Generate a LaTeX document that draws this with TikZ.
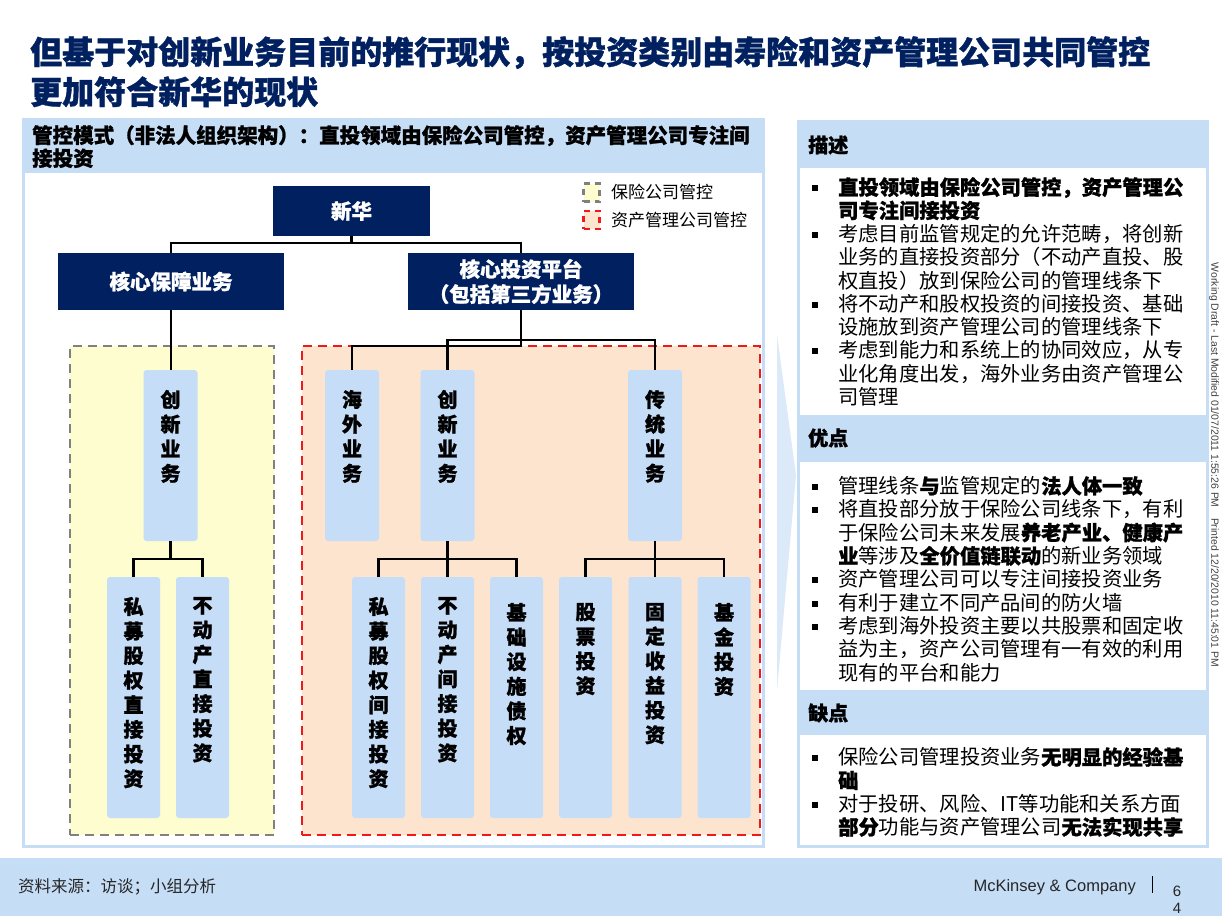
\documentclass[tikz,border=0pt]{standalone}
\usepackage{fontspec}
\setmainfont{Noto Sans CJK SC}[BoldFeatures={FakeBold=1.2}]
\newfontfamily\lat{Liberation Sans}
\definecolor{navy}{HTML}{002060}
\definecolor{lb}{HTML}{C6DDF6}
\definecolor{lbox}{HTML}{C5DDF6}
\definecolor{ylw}{HTML}{FDFDD0}
\definecolor{peach}{HTML}{FCE4CE}
\definecolor{chev}{HTML}{DCE9F8}
\definecolor{zred}{HTML}{F01818}
\definecolor{zgray}{HTML}{808080}
\newcommand{\bl}{\llap{\raisebox{3.5pt}{\rule{6pt}{6pt}}\hspace{20pt}}}
\begin{document}
\begin{tikzpicture}[x=1pt,y=-1pt,
  navybox/.style={fill=navy,text=white,font=\bfseries\fontsize{20.5}{25}\selectfont,inner sep=0,align=center},
  lvtwo/.style={fill=lbox,rounded corners=3pt,minimum width=54pt,minimum height=171pt,inner sep=0},
  lvthree/.style={fill=lbox,rounded corners=3pt,minimum width=53pt,minimum height=241pt,inner sep=0},
  vt/.style={font=\bfseries\fontsize{20}{24.6}\selectfont,align=center,inner sep=0,anchor=north},
  conn/.style={draw=black,line width=2.3pt},
  zoney/.style={fill=ylw,draw=zgray,line width=2.6pt,dash pattern=on 9pt off 6pt,inner sep=0},
  zoner/.style={fill=peach,draw=zred,line width=2.6pt,dash pattern=on 9pt off 6pt,inner sep=0},
  sect/.style={anchor=north west,inner sep=0,align=left,font=\fontsize{20.3}{23.3}\selectfont},
  hdr/.style={anchor=west,inner sep=0,font=\bfseries\fontsize{20}{24}\selectfont},
]
\useasboundingbox (0,0) rectangle (1222,916);
\fill[white] (0,0) rectangle (1222,916);
% title
\node[anchor=north west,inner sep=0,align=left,text=navy,font=\bfseries\fontsize{32}{40}\selectfont] (title) at (30,36)
 {但基于对创新业务目前的推行现状，按投资类别由寿险和资产管理公司共同管控\\更加符合新华的现状};
% left panel
\fill[lb] (22,118) rectangle (765,848);
\fill[white] (25,173) rectangle (762,845);
\node[anchor=north west,inner sep=0,align=left,font=\bfseries\fontsize{20.5}{23}\selectfont] (lhdr) at (32,125)
 {管控模式（非法人组织架构）：直投领域由保险公司管控，资产管理公司专注间\\接投资};
% zones
\node[zoney,minimum width=204pt,minimum height=489pt] (zy) at (172,590.5) {};
\node[zoner,minimum width=458pt,minimum height=489pt] (zr) at (531,590.5) {};
% legend
\node[fill=ylw,draw=zgray,line width=2.5pt,dash pattern=on 6pt off 5pt,minimum width=16pt,minimum height=18pt,inner sep=0] (ly) at (591.5,192.5) {};
\node[fill=peach,draw=zred,line width=2.5pt,dash pattern=on 6pt off 5pt,minimum width=16pt,minimum height=18pt,inner sep=0] (lr) at (591.5,220) {};
\node[anchor=west,inner sep=0,font=\fontsize{17}{20}\selectfont] (lyt) at (611,192) {保险公司管控};
\node[anchor=west,inner sep=0,font=\fontsize{17}{20}\selectfont] (lrt) at (611,220) {资产管理公司管控};
% top nodes
\node[navybox,minimum width=157pt,minimum height=50pt] (xh) at (351.5,211) {新华};
\node[navybox,minimum width=226pt,minimum height=57pt] (bz) at (171,281.5) {核心保障业务};
\node[navybox,minimum width=226pt,minimum height=57pt] (tz) at (521,281.5) {核心投资平台\\（包括第三方业务）};
% level 2
\node[lvtwo] (lcx) at (170.5,455.5) {};
\node[lvtwo] (hw) at (352,455.5) {};
\node[lvtwo] (rcx) at (447.5,455.5) {};
\node[lvtwo] (ct) at (655,455.5) {};
% level 3
\node[lvthree] (a1) at (133.5,697.5) {};
\node[lvthree] (a2) at (202.5,697.5) {};
\node[lvthree] (b1) at (378.5,697.5) {};
\node[lvthree] (b2) at (447.5,697.5) {};
\node[lvthree] (b3) at (516.5,697.5) {};
\node[lvthree] (c1) at (585.5,697.5) {};
\node[lvthree] (c2) at (655,697.5) {};
\node[lvthree] (c3) at (724,697.5) {};
% connectors
\draw[conn] (xh.south) -- ++(0,7);
\draw[conn] (bz.north) -- ++(0,-10) -| (tz.north);
\draw[conn] (bz.south) -- (bz.south |- lcx.north);
\draw[conn] (tz.south) -- ++(0,36) -| (hw.north);
\draw[conn] (tz.south) -- ++(0,30) -| (rcx.north);
\draw[conn] (tz.south) -- ++(0,30) -| (ct.north);
\draw[conn] (lcx.south) -- ++(0,18);
\draw[conn] (a1.north) -- ++(0,-18) -| (a2.north);
\draw[conn] (rcx.south) -- (b2.north);
\draw[conn] (b1.north) -- ++(0,-18) -| (b3.north);
\draw[conn] (ct.south) -- (c2.north);
\draw[conn] (c1.north) -- ++(0,-18) -| (c3.north);
% vertical texts
\node[vt] (tlcx) at ([yshift=-20pt]lcx.north) {创\\新\\业\\务};
\node[vt] (thw) at ([yshift=-20pt]hw.north) {海\\外\\业\\务};
\node[vt] (trcx) at ([yshift=-20pt]rcx.north) {创\\新\\业\\务};
\node[vt] (tct) at ([yshift=-20pt]ct.north) {传\\统\\业\\务};
\node[vt] (ta1) at ([yshift=-20pt]a1.north) {私\\募\\股\\权\\直\\接\\投\\资};
\node[vt] (ta2) at ([yshift=-20pt]a2.north) {不\\动\\产\\直\\接\\投\\资};
\node[vt] (tb1) at ([yshift=-20pt]b1.north) {私\\募\\股\\权\\间\\接\\投\\资};
\node[vt] (tb2) at ([yshift=-20pt]b2.north) {不\\动\\产\\间\\接\\投\\资};
\node[vt] (tb3) at ([yshift=-26pt]b3.north) {基\\础\\设\\施\\债\\权};
\node[vt] (tc1) at ([yshift=-26pt]c1.north) {股\\票\\投\\资};
\node[vt] (tc2) at ([yshift=-26pt]c2.north) {固\\定\\收\\益\\投\\资};
\node[vt] (tc3) at ([yshift=-26pt]c3.north) {基\\金\\投\\资};
% chevron
\fill[chev] (777,335) -- (796,475) -- (777,690) -- cycle;
% right panel
\fill[lb] (797,120) rectangle (1209,848);
\fill[white] (800,168) rectangle (1206,415);
\fill[white] (800,462) rectangle (1206,690);
\fill[white] (800,735) rectangle (1206,845);
\node[hdr] (h1) at (808,145) {描述};
\node[hdr] (h2) at (808,438) {优点};
\node[hdr] (h3) at (808,713) {缺点};
\node[sect] (s1) at (838,177) {\bl\textbf{直投领域由保险公司管控，资产管理公}\\
\textbf{司专注间接投资}\\
\bl 考虑目前监管规定的允许范畴，将创新\\
业务的直接投资部分（不动产直投、股\\
权直投）放到保险公司的管理线条下\\
\bl 将不动产和股权投资的间接投资、基础\\
设施放到资产管理公司的管理线条下\\
\bl 考虑到能力和系统上的协同效应，从专\\
业化角度出发，海外业务由资产管理公\\
司管理};
\node[sect] (s2) at (838,476) {\bl 管理线条\textbf{与}监管规定的\textbf{法人体一致}\\
\bl 将直投部分放于保险公司线条下，有利\\
于保险公司未来发展\textbf{养老产业、健康产}\\
\textbf{业}等涉及\textbf{全价值链联动}的新业务领域\\
\bl 资产管理公司可以专注间接投资业务\\
\bl 有利于建立不同产品间的防火墙\\
\bl 考虑到海外投资主要以共股票和固定收\\
益为主，资产公司管理有一有效的利用\\
现有的平台和能力};
\node[sect] (s3) at (838,747) {\bl 保险公司管理投资业务\textbf{无明显的经验基}\\
\textbf{础}\\
\bl 对于投研、风险、IT等功能和关系方面\\
\textbf{部分}功能与资产管理公司\textbf{无法实现共享}};
% side text
\node[rotate=-90,inner sep=0,text=black!75,font=\lat\fontsize{10.4}{12}\selectfont] (side) at (1214,465)
 {Working Draft - Last Modified 01/07/2011 1:55:26 PM\quad Printed 12/20/2010 11:45:01 PM};
% footer
\fill[lb] (0,858) rectangle (1222,916);
\node[anchor=west,inner sep=0,text=black!85,font=\fontsize{16.5}{18}\selectfont] (src) at (18,887) {资料来源：访谈；小组分析};
\node[anchor=east,inner sep=0,text=black!85,font=\lat\fontsize{16.5}{18}\selectfont] (mck) at (1136,887) {McKinsey \& Company};
\coordinate (bar1) at (1152,876);
\coordinate (bar2) at (1152,893);
\draw[line width=1pt] (bar1) -- (bar2);
\node[inner sep=0,text=black!85,font=\lat\fontsize{15}{18}\selectfont] (pg1) at (1177,891) {6};
\node[inner sep=0,text=black!85,font=\lat\fontsize{15}{18}\selectfont] (pg2) at (1177,908) {4};
\end{tikzpicture}
\end{document}
